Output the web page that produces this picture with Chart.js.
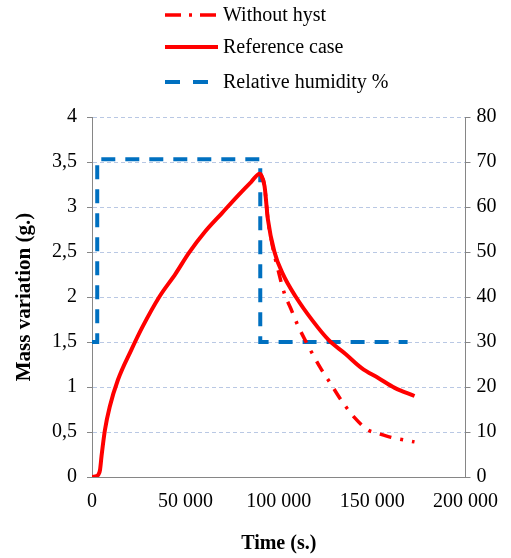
<!DOCTYPE html>
<html>
<head>
<meta charset="utf-8">
<script src="https://cdn.jsdelivr.net/npm/chart.js@4/dist/chart.umd.min.js"></script>
<style>
  html, body { margin: 0; padding: 0; background: #fff; }
  #wrap { width: 511px; height: 558px; position: relative; }
</style>
</head>
<body>
<div id="wrap"><canvas id="massChart"></canvas></div>
<script>
// Reference case (solid red)
const refTime = [0, 2500, 3500, 4300, 5100, 6900, 9500, 13900, 21000, 27100, 36000, 44800, 51900, 60700, 69500, 78300, 85300, 89800, 90400, 92400, 94200, 97700, 102100, 109200, 118000, 126800, 135600, 144400, 153300, 162100, 172700];
const refMass = [0, 0.01, 0.03, 0.08, 0.23, 0.52, 0.78, 1.08, 1.41, 1.67, 2.0, 2.26, 2.49, 2.73, 2.93, 3.13, 3.28, 3.37, 3.36, 3.23, 2.86, 2.50, 2.26, 2.00, 1.74, 1.52, 1.37, 1.21, 1.10, 0.99, 0.90];

// Without hysteresis (dash-dot red)
const noHystTime = [89800, 90400, 92400, 94200, 96500, 99500, 103000, 106500, 110100, 116200, 122400, 127700, 133900, 140600, 148000, 152400, 160300, 172700];
const noHystMass = [3.37, 3.36, 3.23, 2.86, 2.58, 2.31, 2.04, 1.87, 1.69, 1.44, 1.21, 1.04, 0.84, 0.66, 0.52, 0.49, 0.44, 0.39];

// Relative humidity % (dashed blue, right axis)
const rhTime = [0, 2800, 2800, 90100, 90100, 169000];
const rhValues = [30, 30, 70.6, 70.6, 30, 30];

const xTicks = { min: 0, max: 200000, step: 50000 };
const yTicks = { min: 0, max: 4, step: 0.5 };
const y1Ticks = { min: 0, max: 80, step: 10 };

const legendLabels = ["Without hyst", "Reference case", "Relative humidity %"];

const pts = (xs, ys) => xs.map((x, i) => ({ x: x, y: ys[i] }));
const spaced = v => String(v).replace(/\B(?=(\d{3})+(?!\d))/g, " ");
const comma = v => String(v).replace(".", ",");

const FONT = "'Liberation Serif', 'Times New Roman', serif";

/* legend drawn inside the canvas, stacked vertically above the plot */
const stackedLegend = {
  id: "stackedLegend",
  afterDraw(chart) {
    const ctx = chart.ctx;
    const rows = [15, 47, 82];
    chart.data.datasets.forEach((ds, i) => {
      const y = rows[i];
      ctx.save();
      ctx.strokeStyle = ds.borderColor;
      ctx.lineWidth = ds.borderWidth;
      ctx.setLineDash(ds.legendDash || []);
      ctx.beginPath();
      ctx.moveTo(165, y);
      ctx.lineTo(218, y);
      ctx.stroke();
      ctx.setLineDash([]);
      ctx.fillStyle = "#000";
      ctx.font = "20px " + FONT;
      ctx.textBaseline = "middle";
      ctx.textAlign = "left";
      ctx.fillText(ds.label, 223, y + 1);
      ctx.restore();
    });
  }
};

new Chart(document.getElementById("massChart"), {
  type: "line",
  data: {
    datasets: [
      {
        label: legendLabels[0],
        data: pts(noHystTime, noHystMass),
        borderColor: "#ff0000",
        borderWidth: 3.5,
        borderDash: [12, 9, 3, 9],
        legendDash: [16, 8, 3, 8],
        cubicInterpolationMode: "monotone",
        pointRadius: 0,
        yAxisID: "y",
        order: 2
      },
      {
        label: legendLabels[1],
        data: pts(refTime, refMass),
        borderColor: "#ff0000",
        borderWidth: 4,
        cubicInterpolationMode: "monotone",
        pointRadius: 0,
        yAxisID: "y",
        order: 1
      },
      {
        label: legendLabels[2],
        data: pts(rhTime, rhValues),
        borderColor: "#0070c0",
        borderWidth: 4,
        borderDash: [14, 10],
        legendDash: [15, 13],
        pointRadius: 0,
        yAxisID: "y1",
        order: 3
      }
    ]
  },
  options: {
    responsive: true,
    maintainAspectRatio: false,
    animation: false,
    layout: { padding: { top: 117, left: 0, right: 0, bottom: 0 } },
    plugins: { legend: { display: false }, tooltip: { enabled: false } },
    scales: {
      x: {
        type: "linear",
        min: xTicks.min,
        max: xTicks.max,
        afterFit: s => { s.height = 81; },
        ticks: {
          stepSize: xTicks.step,
          color: "#000",
          font: { family: FONT, size: 20 },
          padding: 13,
          maxRotation: 0,
          callback: v => spaced(v)
        },
        grid: { display: false, drawTicks: false },
        border: { display: true, color: "#868686", width: 1 },
        title: {
          display: true,
          text: "Time (s.)",
          color: "#000",
          font: { family: FONT, size: 20, weight: "bold" },
          padding: { top: 0, bottom: 2 }
        }
      },
      y: {
        position: "left",
        min: yTicks.min,
        max: yTicks.max,
        afterFit: s => { s.width = 92; },
        ticks: {
          stepSize: yTicks.step,
          color: "#000",
          font: { family: FONT, size: 20 },
          padding: 10,
          callback: v => comma(v)
        },
        grid: {
          color: "#b9c8e4",
          tickColor: "#868686",
          tickLength: 5,
          lineWidth: 1
        },
        border: { display: true, color: "#868686", width: 1, dash: [4, 3] },
        title: {
          display: true,
          text: "Mass variation (g.)",
          color: "#000",
          font: { family: FONT, size: 21, weight: "bold" },
          padding: { top: 12, bottom: 0 }
        }
      },
      y1: {
        position: "right",
        min: y1Ticks.min,
        max: y1Ticks.max,
        afterFit: s => { s.width = 41; },
        ticks: {
          stepSize: y1Ticks.step,
          color: "#000",
          font: { family: FONT, size: 20 },
          padding: 6
        },
        grid: {
          drawOnChartArea: false,
          tickColor: "#868686",
          tickLength: 5
        },
        border: { display: true, color: "#868686", width: 1 }
      }
    }
  },
  plugins: [stackedLegend]
});
</script>
</body>
</html>
